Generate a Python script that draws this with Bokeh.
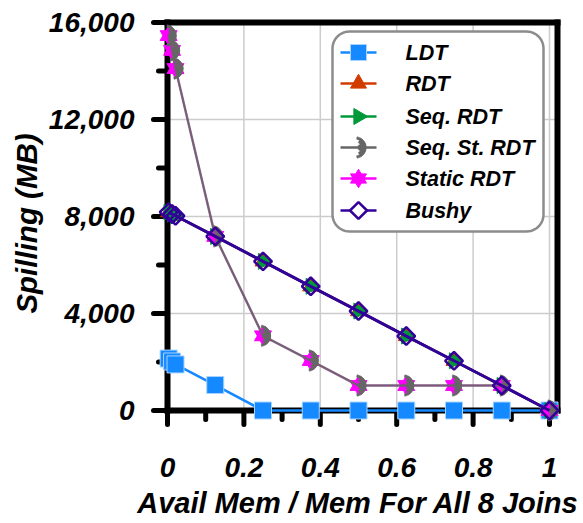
import math

from bokeh.core.properties import value
from bokeh.embed import file_html
from bokeh.models import (ColumnDataSource, CustomJSTickFormatter, FixedTicker,
                          NumeralTickFormatter, Range1d, Title)
from bokeh.plotting import figure
from bokeh.resources import INLINE
from bokeh.transform import dodge

# ---- data -------------------------------------------------------------------
mem_ratio = [0.003, 0.012, 0.021, 0.125, 0.25, 0.375, 0.5, 0.625, 0.75, 0.875, 1.0]

ldt = [2140, 2020, 1900, 1050, 0, 0, 0, 0, 0, 0, 0]
rdt = [8180, 8100, 8030, 7180, 6150, 5120, 4100, 3070, 2050, 1030, 0]
seq_rdt = [8180, 8100, 8030, 7180, 6150, 5120, 4100, 3070, 2050, 1030, 0]
seq_st_rdt = [15460, 14850, 14100, 7180, 3080, 2060, 1030, 1030, 1030, 1030, 0]
static_rdt = [15460, 14850, 14100, 7180, 3080, 2060, 1030, 1030, 1030, 1030, 0]
bushy = [8180, 8100, 8030, 7180, 6150, 5120, 4100, 3070, 2050, 1030, 0]

series_names = ["LDT", "RDT", "Seq. RDT", "Seq. St. RDT", "Static RDT", "Bushy"]

x_major = [0, 0.2, 0.4, 0.6, 0.8, 1.0]
x_minor = [0.1, 0.3, 0.5, 0.7, 0.9]
y_major = [0, 4000, 8000, 12000, 16000]
y_minor = [2000, 6000, 10000, 14000]

x_title = "Avail Mem / Mem For All 8 Joins"
y_title = "Spilling (MB)"

# ---- colours / fonts --------------------------------------------------------
C_LDT = "#1589FF"
C_RDT = "#D23B00"
C_SEQ = "#00993A"
C_SEQST = "#666666"
C_STATIC = "#FF00FF"
C_BUSHY = "#330099"
GRID = "#CCCCCC"
FONT = "Liberation Sans"

# ---- pixel geometry -----------------------------------------------------------
W, H = 583, 523
X0_PX, X1_PX = 167, 549      # screen x of ratio 0 and ratio 1
Y0_PX, YT_PX = 410, 22       # screen y of 0 MB and of the top value
YTOP = 16000


def dx(px):
    return (px - X0_PX) / (X1_PX - X0_PX)


def dy(py):
    return (Y0_PX - py) * YTOP / (Y0_PX - YT_PX)


# the frame is a little larger than the axes box so markers on the axes are not cut
FL, FR, FT, FB = 147, 568, 12, 434

p = figure(
    width=W, height=H,
    x_range=Range1d(dx(FL), dx(FR)), y_range=Range1d(dy(FB), dy(FT)),
    output_backend="svg", toolbar_location=None,
    min_border_left=FL, min_border_right=W - FR, min_border_top=FT, min_border_bottom=H - FB,
)
p.grid.visible = False
p.outline_line_color = None
p.background_fill_color = "white"
p.border_fill_color = "white"

# axes: only the labels come from Bokeh's axes, lines and ticks are drawn below
for ax in (p.xaxis[0], p.yaxis[0]):
    ax.axis_line_color = None
    ax.major_tick_line_color = None
    ax.minor_tick_line_color = None
    ax.major_tick_out = 0
    ax.major_tick_in = 0
    ax.major_label_text_font = FONT
    ax.major_label_text_font_style = "bold italic"
    ax.major_label_text_font_size = "28px"
    ax.major_label_text_color = "black"

p.xaxis.ticker = FixedTicker(ticks=x_major, minor_ticks=x_minor)
p.xaxis.formatter = CustomJSTickFormatter(code="return Number(tick.toFixed(1)).toString()")
p.xaxis.major_label_standoff = 19

p.yaxis.ticker = FixedTicker(ticks=y_major, minor_ticks=y_minor)
p.yaxis.formatter = NumeralTickFormatter(format="0,0")
p.yaxis.major_label_standoff = 9

p.add_layout(Title(text=x_title, align="center", offset=5, standoff=10, text_font=FONT,
                   text_font_style="bold italic", text_font_size="29px", text_color="black"),
             "below")
p.add_layout(Title(text=y_title, align="center", offset=-18, standoff=6, text_font=FONT,
                   text_font_style="bold italic", text_font_size="29.5px", text_color="black"),
             "left")

R = dx(557)  # right border of the axes box

# grid lines
gx = x_major[1:]
p.segment(x0=gx, y0=[0] * len(gx), x1=gx, y1=[YTOP] * len(gx), line_color=GRID, line_width=1.5)
gy = y_major[1:-1]
p.segment(x0=[0] * len(gy), y0=gy, x1=[R] * len(gy), y1=gy, line_color=GRID, line_width=1.5)

# rounded legend box
LB_L, LB_R, LB_T, LB_B, RAD = 332, 543, 31, 231, 17
box_px = []
for cx, cy, a0 in ((LB_R - RAD, LB_T + RAD, -90), (LB_R - RAD, LB_B - RAD, 0),
                   (LB_L + RAD, LB_B - RAD, 90), (LB_L + RAD, LB_T + RAD, 180)):
    for k in range(13):
        a = math.radians(a0 + 90 * k / 12)
        box_px.append((cx + RAD * math.cos(a), cy + RAD * math.sin(a)))
p.patch([dx(u) for u, _ in box_px], [dy(v) for _, v in box_px],
        fill_color="white", line_color="#8C8C8C", line_width=2.5)

# axis lines and the heavy top / right border
p.segment(x0=[0, 0, 0, R], y0=[0, 0, YTOP, 0], x1=[0, R, R, R], y1=[YTOP, 0, YTOP, YTOP],
          line_color="black", line_width=6, line_cap="square")

# tick marks (outside the box)
MAJ, MIN = 14, 9
p.segment(x0=x_major, y0=[0] * len(x_major), x1=x_major, y1=[dy(Y0_PX + MAJ)] * len(x_major),
          line_color="black", line_width=5, line_cap="round")
p.segment(x0=x_minor, y0=[0] * len(x_minor), x1=x_minor, y1=[dy(Y0_PX + MIN)] * len(x_minor),
          line_color="black", line_width=5, line_cap="round")
p.segment(x0=[0] * len(y_major), y0=y_major, x1=[dx(X0_PX - MAJ)] * len(y_major), y1=y_major,
          line_color="black", line_width=5, line_cap="round")
p.segment(x0=[0] * len(y_minor), y0=y_minor, x1=[dx(X0_PX - MIN)] * len(y_minor), y1=y_minor,
          line_color="black", line_width=5, line_cap="round")

CRES_SHIFT = dx(X0_PX - 3.5)  # arc centre sits a little left of the point


def crescent(xs, ys):
    # right-facing crescent: stacked half annuli, thick in the middle, thin at the tips
    src = ColumnDataSource(dict(x=list(xs), y=list(ys)))
    for inner, half in ((8.5, 1.38), (6.0, 1.0), (3.5, 0.55)):
        p.annular_wedge(x=dodge("x", CRES_SHIFT), y="y", source=src,
                        inner_radius=inner, outer_radius=11,
                        inner_radius_units="screen", outer_radius_units="screen",
                        start_angle=-half, end_angle=half,
                        fill_color=C_SEQST, line_color=C_SEQST, line_width=0.5)


# ---- series -------------------------------------------------------------------
p.line(mem_ratio, ldt, line_color=C_LDT, line_width=2.5)
p.scatter(mem_ratio, ldt, marker="square", size=17, fill_color=C_LDT, line_color="#A8D4FF", line_width=1)

p.line(mem_ratio, rdt, line_color=C_RDT, line_width=2.5)
p.scatter(mem_ratio, rdt, marker="triangle", size=16, fill_color=C_RDT, line_color=C_RDT)

p.line(mem_ratio, seq_rdt, line_color=C_SEQ, line_width=2.5)
p.scatter(mem_ratio, seq_rdt, marker="triangle", angle=-math.pi / 2, size=16,
          fill_color=C_SEQ, line_color=C_SEQ)

p.line(mem_ratio, static_rdt, line_color=C_STATIC, line_width=1.5)
for mk in ("triangle", "inverted_triangle"):
    p.scatter(mem_ratio, static_rdt, marker=mk, size=17, fill_color=C_STATIC, line_color=C_STATIC)

p.line(mem_ratio, seq_st_rdt, line_color=C_SEQST, line_width=2.5, line_alpha=0.85)
crescent(mem_ratio, seq_st_rdt)

p.line(mem_ratio, bushy, line_color=C_BUSHY, line_width=3)
p.scatter(mem_ratio, bushy, marker="square", angle=math.pi / 4, size=12.5,
          fill_color=None, line_color=C_BUSHY, line_width=2.5)

# ---- legend -------------------------------------------------------------------
row_py = [52, 83, 116, 147, 178, 210]
row_y = [dy(v) for v in row_py]
colors = [C_LDT, C_RDT, C_SEQ, C_SEQST, C_STATIC, C_BUSHY]
mx = dx(358)
p.segment(x0=[dx(340)] * 6, y0=row_y, x1=[dx(376)] * 6, y1=row_y, line_color=colors, line_width=2.5)
p.scatter([mx], [row_y[0]], marker="square", size=16, fill_color=C_LDT, line_color="#A8D4FF")
p.scatter([mx], [row_y[1]], marker="triangle", size=16, fill_color=C_RDT, line_color=C_RDT)
p.scatter([mx], [row_y[2]], marker="triangle", angle=-math.pi / 2, size=16,
          fill_color=C_SEQ, line_color=C_SEQ)
crescent([mx], [row_y[3]])
for mk in ("triangle", "inverted_triangle"):
    p.scatter([mx], [row_y[4]], marker=mk, size=16, fill_color=C_STATIC, line_color=C_STATIC)
p.scatter([mx], [row_y[5]], marker="square", angle=math.pi / 4, size=12,
          fill_color="white", line_color=C_BUSHY, line_width=2.5)
p.text([dx(405)] * 6, row_y, text=series_names, text_font=value(FONT),
       text_font_style="bold italic", text_font_size="21.5px", text_color="black",
       text_align="left", text_baseline="middle")

open("out.html", "w").write(file_html(p, INLINE))
